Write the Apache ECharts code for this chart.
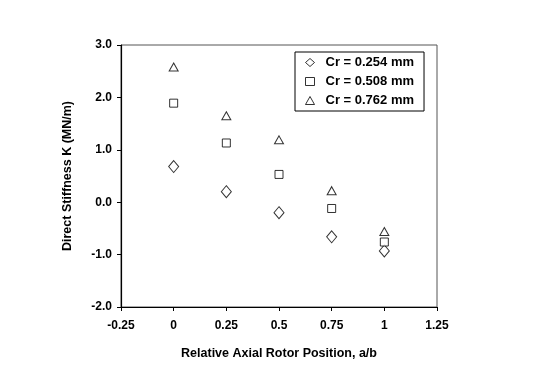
<!DOCTYPE html>
<html>
<head>
<meta charset="utf-8">
<script src="https://cdn.jsdelivr.net/npm/echarts@6/dist/echarts.min.js"></script>
<style>
  html, body { margin: 0; padding: 0; background: #fff; }
  #chart { width: 554px; height: 378px; }
</style>
</head>
<body>
<div id="chart"></div>
<script>
const positions = [0, 0.25, 0.5, 0.75, 1]
const cr254 = [0.68, 0.20, -0.20, -0.66, -0.93]
const cr508 = [1.89, 1.13, 0.53, -0.12, -0.76]
const cr762 = [2.58, 1.65, 1.19, 0.22, -0.56]
const seriesNames = ['Cr = 0.254 mm', 'Cr = 0.508 mm', 'Cr = 0.762 mm']

const font = 'Liberation Sans, Arial, sans-serif'
const pair = vals => positions.map((p, i) => [p, vals[i]])

const mk = (name, vals, symbol, size) => ({
  name: name,
  type: 'scatter',
  data: pair(vals),
  symbol: symbol,
  symbolSize: size,
  itemStyle: { color: '#fff', borderColor: '#000', borderWidth: 1 }
})

const chart = echarts.init(document.getElementById('chart'))
chart.setOption({
  animation: false,
  grid: {
    left: 121, right: 117, top: 45, bottom: 71,
    show: true, borderColor: '#555', borderWidth: 1
  },
  legend: {
    left: 295, top: 52,
    orient: 'vertical',
    itemGap: 6,
    itemWidth: 9, itemHeight: 8,
    padding: [4, 10, 4, 10],
    borderColor: '#000', borderWidth: 1,
    backgroundColor: '#fff',
    itemStyle: { color: '#fff', borderColor: '#000', borderWidth: 1 },
    textStyle: { fontFamily: font, fontWeight: 'bold', fontSize: 13, color: '#000', padding: [0, 0, 0, 6] },
    data: seriesNames
  },
  xAxis: {
    type: 'value',
    min: -0.25, max: 1.25, interval: 0.25,
    name: 'Relative Axial Rotor Position, a/b',
    nameLocation: 'middle',
    nameGap: 40,
    nameTextStyle: { fontFamily: font, fontWeight: 'bold', fontSize: 12.5, color: '#000' },
    axisLine: { onZero: false, lineStyle: { color: '#000', width: 1.2 } },
    axisTick: { length: 4, lineStyle: { color: '#000' } },
    axisLabel: { fontFamily: font, fontWeight: 'bold', fontSize: 12, color: '#000', margin: 13 },
    splitLine: { show: false }
  },
  yAxis: {
    type: 'value',
    min: -2, max: 3, interval: 1,
    name: 'Direct Stiffness K (MN/m)',
    nameLocation: 'middle',
    nameGap: 47,
    nameTextStyle: { fontFamily: font, fontWeight: 'bold', fontSize: 12.5, color: '#000' },
    axisLine: { show: true, onZero: false, lineStyle: { color: '#000', width: 1.2 } },
    axisTick: { show: true, length: 4, lineStyle: { color: '#000' } },
    axisLabel: { fontFamily: font, fontWeight: 'bold', fontSize: 12, color: '#000', margin: 9,
      formatter: v => v.toFixed(1) },
    splitLine: { show: false }
  },
  series: [
    mk(seriesNames[0], cr254, 'diamond', [10, 12]),
    mk(seriesNames[1], cr508, 'rect', 8),
    mk(seriesNames[2], cr762, 'triangle', [9, 8])
  ]
})
</script>
</body>
</html>
